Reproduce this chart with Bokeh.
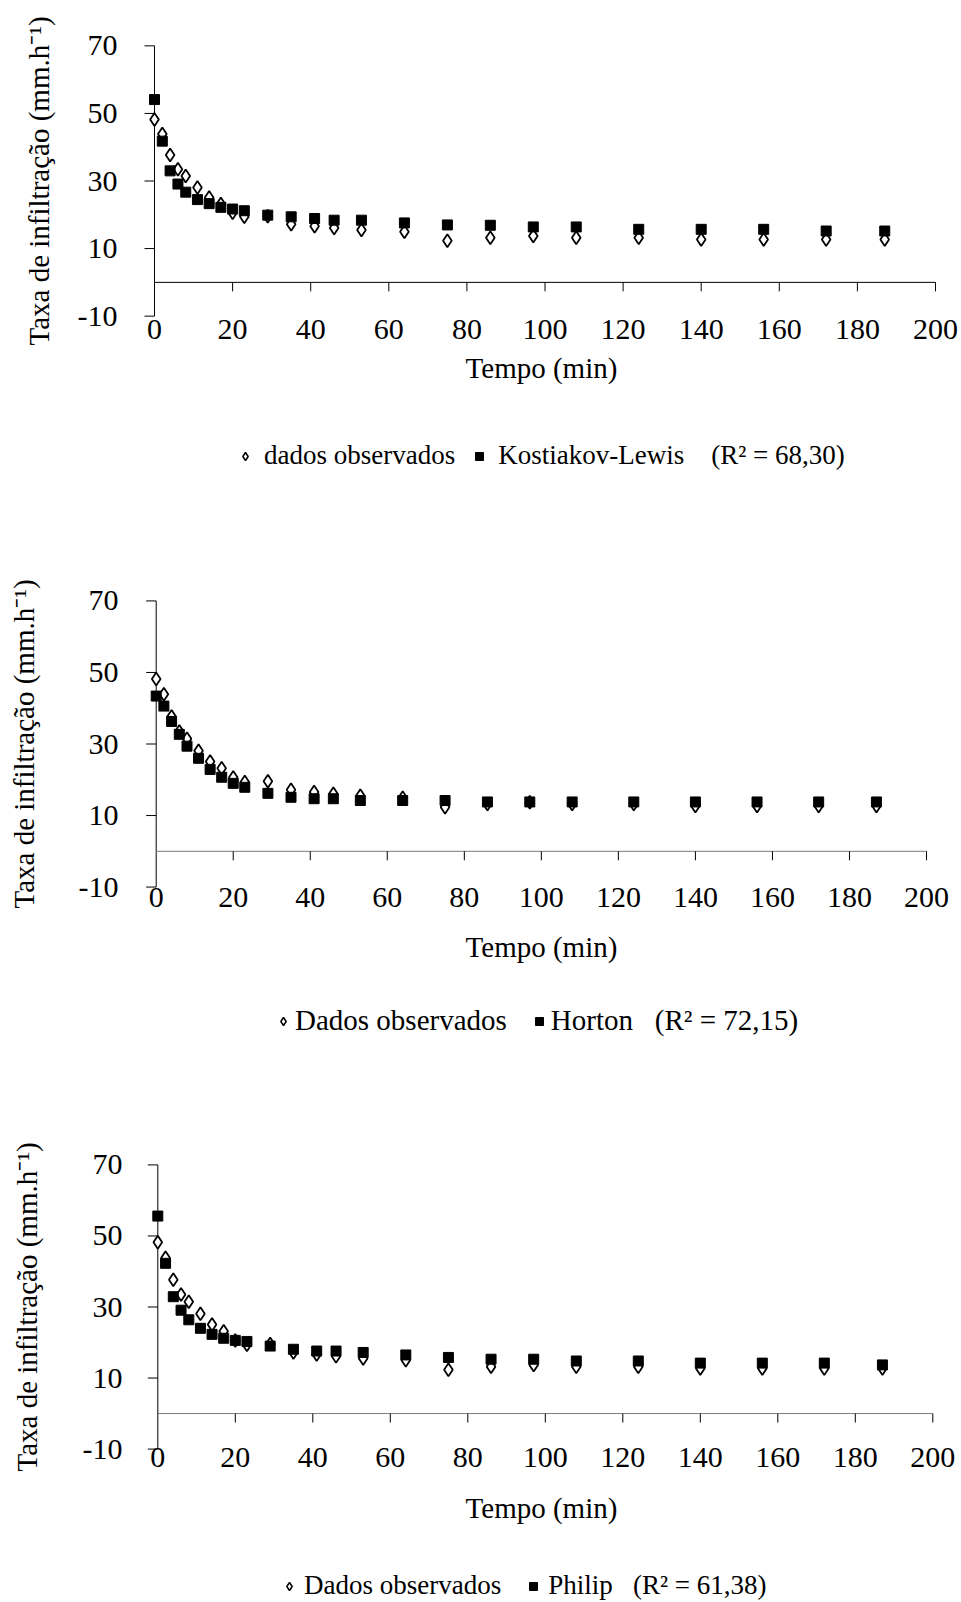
from bokeh.plotting import figure
from bokeh.models import Range1d, FixedTicker, Legend, LegendItem
from bokeh.layouts import column
from bokeh.embed import file_html
from bokeh.resources import INLINE

# ---- data ----
tempo = [0, 2, 4, 6, 8, 11, 14, 17, 20, 23, 29, 35, 41, 46, 53, 64, 75,
         86, 97, 108, 124, 140, 156, 172, 187]
observado = [48.2, 43.9, 37.7, 33.5, 31.5, 28.1, 25.1, 23.2, 20.6, 19.4, 19.6,
             17.2, 16.6, 16.1, 15.5, 15.0, 12.3, 13.2, 13.7, 13.2, 13.2, 12.7,
             12.7, 12.7, 12.7]
kostiakov_lewis = [54.1, 41.8, 33.0, 29.1, 26.7, 24.5, 23.3, 22.2, 21.7, 21.2,
                   19.9, 19.4, 18.9, 18.4, 18.4, 17.6, 17.0, 16.9, 16.4, 16.4,
                   15.7, 15.7, 15.7, 15.2, 15.2]
horton = [43.4, 40.6, 36.3, 32.7, 29.4, 26.0, 22.9, 20.7, 19.0, 17.9, 16.2,
          15.1, 14.7, 14.7, 14.2, 14.2, 14.2, 13.8, 13.8, 13.8, 13.8, 13.8,
          13.8, 13.8, 13.8]
philip = [55.6, 42.3, 32.9, 29.1, 26.4, 24.0, 22.3, 21.2, 20.6, 20.3, 19.0,
          18.1, 17.6, 17.6, 17.2, 16.5, 15.8, 15.3, 15.3, 14.8, 14.8, 14.2,
          14.2, 14.2, 13.7]
x_ticks = [0, 20, 40, 60, 80, 100, 120, 140, 160, 180, 200]
y_ticks = [-10, 10, 30, 50, 70]

FONT = "Liberation Serif"
W = 961
LEFT, RIGHT = 142, 21           # common frame borders (column aligns frames)
FRAME_W = W - LEFT - RIGHT
Y_PAD = 0.4


def base_fig(height, **kw):
    p = figure(width=W, height=height, output_backend="svg",
               toolbar_location=None, min_border_left=LEFT,
               min_border_right=RIGHT, **kw)
    p.outline_line_color = None
    p.grid.visible = False
    p.background_fill_color = "white"
    p.border_fill_color = "white"
    return p


def make_chart(model, height, top, bottom, frame_h, axis_px, end_px,
               axis_color, ylab_standoff, ytitle_standoff, xlab_standoff,
               xtitle_standoff):
    # pixel position of x=0 (axis_px) and x=200 (end_px) inside the figure
    ppu = (end_px - axis_px) / (x_ticks[-1] - x_ticks[0])
    x_start = x_ticks[0] - (axis_px - LEFT) / ppu
    x_end = x_start + FRAME_W / ppu
    p = base_fig(height,
                 x_range=Range1d(x_start, x_end),
                 y_range=Range1d(y_ticks[0] - Y_PAD, y_ticks[-1] + Y_PAD),
                 min_border_top=top, min_border_bottom=bottom)
    ppy = frame_h / (y_ticks[-1] - y_ticks[0] + 2 * Y_PAD)

    ya = p.yaxis[0]
    ya.ticker = FixedTicker(ticks=y_ticks)
    ya.major_label_overrides = {t: str(t) for t in y_ticks}
    ya.axis_line_color = None
    ya.major_tick_line_color = None
    ya.minor_tick_line_color = None
    ya.major_tick_out = 0
    ya.major_tick_in = 0
    ya.major_label_standoff = ylab_standoff
    ya.major_label_text_font = FONT
    ya.major_label_text_font_size = "30px"
    ya.major_label_text_color = "black"
    ya.axis_label = "Taxa de infiltração (mm.h⁻¹)"
    ya.axis_label_text_font = FONT
    ya.axis_label_text_font_size = "29px"
    ya.axis_label_text_font_style = "normal"
    ya.axis_label_text_color = "black"
    ya.axis_label_standoff = ytitle_standoff

    xa = p.xaxis[0]
    xa.ticker = FixedTicker(ticks=x_ticks)
    xa.axis_line_color = None
    xa.major_tick_line_color = None
    xa.minor_tick_line_color = None
    xa.major_tick_out = 0
    xa.major_tick_in = 0
    xa.major_label_standoff = xlab_standoff
    xa.major_label_text_font = FONT
    xa.major_label_text_font_size = "30px"
    xa.major_label_text_color = "black"
    xa.axis_label = "Tempo (min)"
    xa.axis_label_text_font = FONT
    xa.axis_label_text_font_size = "29px"
    xa.axis_label_text_font_style = "normal"
    xa.axis_label_text_color = "black"
    xa.axis_label_standoff = xtitle_standoff

    # vertical axis at x = 0 with ticks pointing left
    ytick = 10 / ppu
    p.segment(x0=[0], y0=[y_ticks[0]], x1=[0], y1=[y_ticks[-1]],
              line_color="black", line_width=1)
    p.segment(x0=[0] * len(y_ticks), y0=y_ticks,
              x1=[-ytick] * len(y_ticks), y1=y_ticks,
              line_color="black", line_width=1)
    # horizontal axis crossing at y = 0 with ticks pointing down
    xtick = 9 / ppy
    p.segment(x0=[x_ticks[0]], y0=[0], x1=[x_ticks[-1]], y1=[0],
              line_color=axis_color, line_width=1)
    p.segment(x0=x_ticks[1:], y0=[0] * (len(x_ticks) - 1),
              x1=x_ticks[1:], y1=[-xtick] * (len(x_ticks) - 1),
              line_color="black", line_width=1)

    p.scatter(tempo, observado, marker="diamond", size=13,
              fill_color="white", line_color="black", line_width=1.8)
    p.scatter(tempo, model, marker="square", size=10,
              fill_color="black", line_color="black", line_width=1)
    return p


def make_legend(model, obs_label, model_label, height, loc, font_size,
                standoff, spacing):
    # the series drawn here lie outside this strip's ranges; only the legend shows
    p = base_fig(height, x_range=Range1d(1000, 1001), y_range=Range1d(0, 1),
                 x_axis_type=None, y_axis_type=None,
                 min_border_top=0, min_border_bottom=0)
    r_obs = p.scatter(tempo, observado, marker="diamond", size=12,
                      fill_color="white", line_color="black", line_width=1.5)
    r_mod = p.scatter(tempo, model, marker="square", size=10,
                      fill_color="black", line_color="black")
    legend = Legend(items=[LegendItem(label=obs_label, renderers=[r_obs]),
                           LegendItem(label=model_label, renderers=[r_mod])],
                    location=loc, orientation="horizontal",
                    glyph_width=20, glyph_height=20, label_standoff=standoff,
                    spacing=spacing, padding=0, margin=0,
                    border_line_color=None, background_fill_alpha=0,
                    label_text_font=FONT, label_text_font_size=font_size,
                    label_text_color="black")
    p.add_layout(legend)
    return p


NB = "\u00a0"
p1 = make_chart(kostiakov_lewis, height=420, top=44, bottom=103, frame_h=273,
                axis_px=154, end_px=935, axis_color="black",
                ylab_standoff=25, ytitle_standoff=20,
                xlab_standoff=2, xtitle_standoff=10)
l1 = make_legend(kostiakov_lewis, "dados observados",
                 "Kostiakov-Lewis" + NB * 4 + "(R² = 68,30)", 70,
                 (235 - LEFT, 19), "27px", 9, 14)
p2 = make_chart(horton, height=510, top=109, bottom=112, frame_h=289,
                axis_px=155.7, end_px=926, axis_color="#7a7a7a",
                ylab_standoff=24, ytitle_standoff=36,
                xlab_standoff=-1, xtitle_standoff=21)
l2 = make_legend(horton, "Dados observados",
                 "Horton" + NB * 3 + "(R² = 72,15)", 50,
                 (273 - LEFT, 13), "29px", 2, 22)
p3 = make_chart(philip, height=495, top=113, bottom=95, frame_h=287,
                axis_px=157.3, end_px=932.3, axis_color="#7a7a7a",
                ylab_standoff=20, ytitle_standoff=37,
                xlab_standoff=-3, xtitle_standoff=22)
l3 = make_legend(philip, "Dados observados",
                 "Philip" + NB * 3 + "(R² = 61,38)", 57,
                 (279 - LEFT, 1), "27px", 5, 22)

layout = column(p1, l1, p2, l2, p3, l3)
open("out.html", "w").write(file_html(layout, INLINE))
